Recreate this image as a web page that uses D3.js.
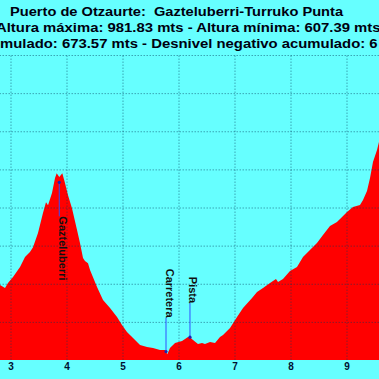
<!DOCTYPE html>
<html><head><meta charset="utf-8">
<script src="https://cdn.jsdelivr.net/npm/d3@7"></script>
<style>html,body{margin:0;padding:0;background:#66ffff;overflow:hidden}</style>
</head><body>
<script>
// ---- data ----
const distKm = [2.70,2.8125,2.902,2.955,3.045,3.170,3.259,3.348,3.402,3.491,3.580,3.634,3.670,3.741,3.795,3.825,3.871,3.925,3.973,4.027,4.098,4.188,4.241,4.295,4.330,4.384,4.420,4.545,4.652,4.777,4.902,4.991,5.080,5.188,5.313,5.438,5.545,5.670,5.759,5.800,5.848,5.938,6.063,6.170,6.205,6.259,6.348,6.420,6.473,6.563,6.652,6.741,6.795,6.920,7.045,7.152,7.313,7.402,7.509,7.634,7.741,7.777,7.866,7.991,8.116,8.223,8.348,8.473,8.580,8.705,8.830,8.884,9.009,9.116,9.241,9.295,9.366,9.420,9.473,9.545,9.580,9.670,9.777,9.866];
const elevM  = [705,698.4,694.4,701,708.9,722,735,741.6,748,766.6,792.8,807,803,819,838.7,845,840,845,832,816,799,770.5,753.4,733.8,729.8,727,718,695.7,678.7,668.2,656.4,645.9,636.7,628.9,619.7,617,615.7,613.1,613,607.4,615.7,622.3,624.9,630.2,630,626.2,621,622.3,621,623.6,622.3,630.2,632.8,642,656.4,668.2,681.3,689.2,694.4,701,706.2,702.3,706.2,716.7,722,735.1,744.3,753.4,763.9,775.7,781,784.9,794.1,800.7,803.3,809.8,821.6,838.7,859.7,875.4,885.9,921,967,981.83];
const xTicks = [3,4,5,6,7,8,9];
const yTicks = [650,700,750,800,850,900,950,1000];
const poiNames = ["Gazteluberri","Carretera","Pista"];
const poiKm = [3.871,5.777,6.205];
const poiElev = [833,611,630];
const titleLines = [
  "Puerto de Otzaurte:  Gazteluberri-Turruko Punta",
  "Altura máxima: 981.83 mts - Altura mínima: 607.39 mts",
  "Desnivel positivo acumulado: 673.57 mts - Desnivel negativo acumulado: 6"
];

// ---- layout ----
const W = 379, H = 379;
const plotTop = 55, plotBottom = 360;
const svg = d3.select("body").append("svg").attr("width", W).attr("height", H);
svg.append("rect").attr("width", W).attr("height", H).attr("fill", "#66ffff");

const x = d3.scaleLinear().domain([3, 9]).range([10.5, 346.5]);
const y = d3.scaleLinear().domain([600, 1000]).range([plotBottom, plotTop]);

const pts = distKm.map((k, i) => ({k, e: elevM[i]}));

svg.append("clipPath").attr("id", "clip").append("rect")
  .attr("x", 0).attr("y", plotTop).attr("width", W).attr("height", plotBottom - plotTop);

const area = d3.area().x(d => x(d.k)).y0(y(600)).y1(d => y(d.e));
svg.append("path").datum(pts).attr("d", area).attr("fill", "#ff0000")
  .attr("clip-path", "url(#clip)");

// grid via axes
const gx = svg.append("g").attr("transform", `translate(0,${plotBottom})`)
  .call(d3.axisBottom(x).tickValues(xTicks).tickSize(-(plotBottom - plotTop)).tickFormat(""));
gx.select(".domain").remove();
gx.selectAll("line").attr("stroke", "#003a5a").attr("stroke-opacity", 0.45)
  .attr("stroke-dasharray", "1.5,1.5");

const gy = svg.append("g").attr("transform", `translate(${W},0)`)
  .call(d3.axisLeft(y).tickValues(yTicks).tickSize(W).tickFormat(""));
gy.select(".domain").remove();
gy.selectAll("line").attr("stroke", "#003a5a").attr("stroke-opacity", 0.45)
  .attr("stroke-dasharray", "1.5,1.5");

// x tick labels
const gl = svg.append("g").attr("transform", `translate(0,${plotBottom})`)
  .call(d3.axisBottom(x).tickValues(xTicks).tickSize(0).tickPadding(2.5).tickFormat(d3.format("d")));
gl.select(".domain").remove();
gl.selectAll("text").attr("font-family", "'Liberation Sans', Arial, sans-serif")
  .attr("font-weight", "bold").attr("font-size", 10).attr("fill", "#001030");

// POI markers
const mid = (plotTop + plotBottom) / 2;
poiNames.forEach((name, i) => {
  const px = x(poiKm[i]), py = y(poiElev[i]);
  const below = py < mid;
  const ty = below ? py + 34 : py - 34;
  svg.append("line").attr("x1", px).attr("x2", px).attr("y1", py).attr("y2", ty)
    .attr("stroke", "#3050ff").attr("stroke-width", 1);
  svg.append("circle").attr("cx", px).attr("cy", py).attr("r", 1.6).attr("fill", "#2020b0");
  svg.append("text").attr("transform", `translate(${px - 0.5},${ty}) rotate(90)`)
    .attr("text-anchor", below ? "start" : "end")
    .attr("font-family", "'Liberation Sans', Arial, sans-serif")
    .attr("font-weight", "bold").attr("font-size", 11).attr("fill", "#101010")
    .text(name);
});

// titles (source image is horizontally stretched)
const tStyle = t => t.attr("font-family", "'Liberation Sans', Arial, sans-serif")
  .attr("font-weight", "bold").attr("font-size", 12.2).attr("fill", "#000010")
  .style("white-space", "pre");
const s1 = 1.2, s2 = 1.22;
svg.append("g").attr("transform", `scale(${s1},1)`)
  .append("text").attr("x", 10 / s1).attr("y", 16).text(titleLines[0]).call(tStyle);
const g2 = svg.append("g").attr("transform", `scale(${s2},1)`);
g2.append("text").attr("x", -4 / s2).attr("y", 32).text(titleLines[1]).call(tStyle);
const t3 = g2.append("text").attr("y", 48).text(titleLines[2]).call(tStyle);
const idx = titleLines[2].indexOf("mulado");
const off = t3.node().getSubStringLength(0, idx);
t3.attr("x", -off);
</script>
</body></html>
